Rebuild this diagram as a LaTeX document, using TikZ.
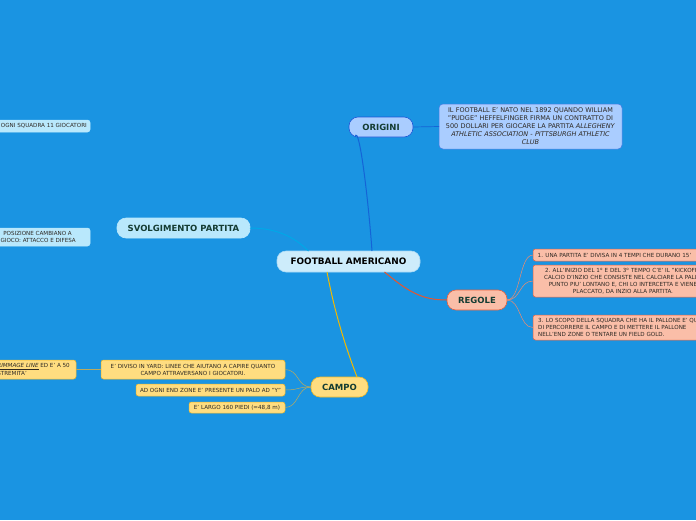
\documentclass[tikz,border=0pt]{standalone}
\usepackage{fontspec}
\setmainfont{DejaVu Sans}
\usetikzlibrary{calc}
\definecolor{bg}{RGB}{26,148,226}
\definecolor{cenfill}{RGB}{205,236,251}
\definecolor{orifill}{RGB}{170,205,255}
\definecolor{oridraw}{RGB}{30,85,215}
\definecolor{svfill}{RGB}{185,232,252}
\definecolor{regfill}{RGB}{250,190,168}
\definecolor{regdraw}{RGB}{235,95,60}
\definecolor{camfill}{RGB}{255,221,128}
\definecolor{camdraw}{RGB}{242,185,40}
\definecolor{maintext}{RGB}{20,60,50}
\definecolor{smalltext}{RGB}{45,40,35}
\definecolor{lnori}{RGB}{20,100,215}
\definecolor{lnsv}{RGB}{0,168,232}
\definecolor{lnreg}{RGB}{232,85,45}
\definecolor{lncam}{RGB}{242,185,0}
\definecolor{lncamsub}{RGB}{185,170,95}
\definecolor{lnregsub}{RGB}{240,140,110}
\tikzset{
  base/.style={rounded corners=#1, inner sep=0pt, outer sep=0pt},
  mainnode/.style={base=9pt, font=\bfseries\fontsize{8.5}{9}\selectfont, text=maintext, line width=0.6pt},
  small/.style={base=2.5pt, font=\fontsize{5.6}{7}\selectfont, text=smalltext, line width=0.5pt, align=center},
  txt/.style={inner sep=0pt, font=\fontsize{5.6}{7}\selectfont, text=smalltext},
  conn/.style={line width=1pt},
  subconn/.style={line width=0.5pt}
}
\begin{document}
\begin{tikzpicture}[x=1pt,y=-1pt]
\useasboundingbox (0,0) rectangle (696,520);
\fill[bg] (0,0) rectangle (696,520);
\clip (0,0) rectangle (696,520);

% central
\node[mainnode, fill=cenfill, draw=cenfill!80!bg, minimum width=143pt, minimum height=21pt, text=black, font=\bfseries\fontsize{8.9}{9}\selectfont] (central) at (348.5,261.5) {FOOTBALL AMERICANO};

% ORIGINI
\node[mainnode, fill=orifill, draw=oridraw, minimum width=64pt, minimum height=20pt] (origini) at (381,127) {ORIGINI};
\node[small, base=4pt, fill=orifill, draw=oridraw!70!orifill, minimum width=183pt, minimum height=45pt, text width=180pt, font=\fontsize{6.5}{8}\selectfont] (oridet) at (530.5,126.5) {IL FOOTBALL E' NATO NEL 1892 QUANDO WILLIAM\\"PUDGE" HEFFELFINGER FIRMA UN CONTRATTO DI\\500 DOLLARI PER GIOCARE LA PARTITA \textit{ALLEGHENY}\\\textit{ATHLETIC ASSOCIATION - PITTSBURGH ATHLETIC}\\\textit{CLUB}};

% SVOLGIMENTO
\node[mainnode, fill=svfill, draw=svfill, minimum width=133pt, minimum height=20pt] (svolg) at (183.5,228) {SVOLGIMENTO PARTITA};
\node[small, fill=svfill, draw=svfill, minimum width=100pt, minimum height=12pt] (sv1) at (40,126) {};
\node[txt, anchor=east] (sv1t) at (87,126) {OGNI SQUADRA 11 GIOCATORI};
\node[small, fill=svfill, draw=svfill, minimum width=100pt, minimum height=18pt] (sv2) at (40,237) {};
\node[txt, anchor=east] (sv2a) at (72,233.5) {POSIZIONE CAMBIANO A};
\node[txt, anchor=east] (sv2b) at (76,240.5) {GIOCO: ATTACCO E DIFESA};

% REGOLE
\node[mainnode, fill=regfill, draw=regdraw, minimum width=60pt, minimum height=20pt] (regole) at (477,300) {REGOLE};
\node[small, fill=regfill, draw=regdraw, minimum width=173pt, minimum height=12pt] (reg1) at (619.5,255) {};
\node[txt, anchor=west] (reg1t) at (537.5,255) {1. UNA PARTITA E' DIVISA IN 4 TEMPI CHE DURANO 15'};
\node[small, fill=regfill, draw=regdraw, minimum width=173pt, minimum height=32pt] (reg2) at (619.5,281) {};
\node[txt, align=center] (reg2t) at (623,281) {2. ALL'INIZIO DEL 1\textsuperscript{o} E DEL 3\textsuperscript{o} TEMPO C'E' IL "KICKOFF"\\CALCIO D'INZIO CHE CONSISTE NEL CALCIARE LA PALLA\\PUNTO PIU' LONTANO E, CHI LO INTERCETTA E VIENE\\PLACCATO, DA INZIO ALLA PARTITA.};
\node[small, fill=regfill, draw=regdraw, minimum width=173pt, minimum height=25pt] (reg3) at (619.5,327.5) {};
\node[txt, align=left, anchor=west] (reg3t) at (538,327.5) {3. LO SCOPO DELLA SQUADRA CHE HA IL PALLONE E' QUELLO\\DI PERCORRERE IL CAMPO E DI METTERE IL PALLONE\\NELL'END ZONE O TENTARE UN FIELD GOLD.};

% CAMPO
\node[mainnode, fill=camfill, draw=camdraw, minimum width=57pt, minimum height=20pt] (campo) at (339.5,387) {CAMPO};
\node[small, fill=camfill, draw=camdraw, minimum width=184pt, minimum height=19pt] (cam1) at (193,369.5) {E' DIVISO IN YARD: LINEE CHE AIUTANO A CAPIRE QUANTO\\CAMPO ATTRAVERSANO I GIOCATORI.};
\node[small, fill=camfill, draw=camdraw, minimum width=149pt, minimum height=12pt] (cam2) at (210.5,390) {AD OGNI END ZONE E' PRESENTE UN PALO AD "Y"};
\node[small, fill=camfill, draw=camdraw, minimum width=96pt, minimum height=11pt] (cam3) at (237,407.5) {E' LARGO 160 PIEDI (=48,8 m)};
\node[small, fill=camfill, draw=camdraw, minimum width=86pt, minimum height=19pt] (cam0) at (33,369.5) {};
\node[txt, anchor=east] (cam0a) at (70,366.5) {\underline{\textit{SCRIMMAGE LINE}} ED E' A 50};
\node[txt, anchor=east] (cam0b) at (27,373) {ESTREMITA'};

% connectors
\draw[conn, lnori] ($(central.north)+(23.5,0)$) .. controls ($(central.north)+(20,-50)$) and ($(origini.south west)+(10,-15)$) .. ($(origini.south west)+(6,0)$);
\draw[subconn, lnori, line width=0.7pt] (origini.east) -- (oridet.west);
\draw[conn, lnsv] ($(central.north)+(-40,0)$) .. controls ($(central.north)+(-55,-15)$) and ($(svolg.east)+(25,0)$) .. (svolg.east);
\draw[conn, lnreg] ($(central.south)+(36,0)$) .. controls ($(central.south)+(60,20)$) and ($(regole.west)+(-25,0)$) .. (regole.west);
\draw[conn, lncam] ($(central.south)+(-21.5,0)$) .. controls ($(central.south)+(-12,50)$) and ($(campo.north)+(10,-20)$) .. ($(campo.north)+(17.5,0)$);

\foreach \t in {reg1,reg2,reg3}
  \draw[subconn, lnregsub] (regole.east) .. controls ($(regole.east)+(14,0)$) and ($(\t.west)+(-14,0)$) .. (\t.west);
\foreach \t in {cam1,cam2,cam3}
  \draw[subconn, lncamsub] (campo.west) .. controls ($(campo.west)+(-14,0)$) and ($(\t.east)+(14,0)$) .. (\t.east);
\draw[subconn, lncamsub] (cam1.west) -- (cam0.east);
\end{tikzpicture}
\end{document}
